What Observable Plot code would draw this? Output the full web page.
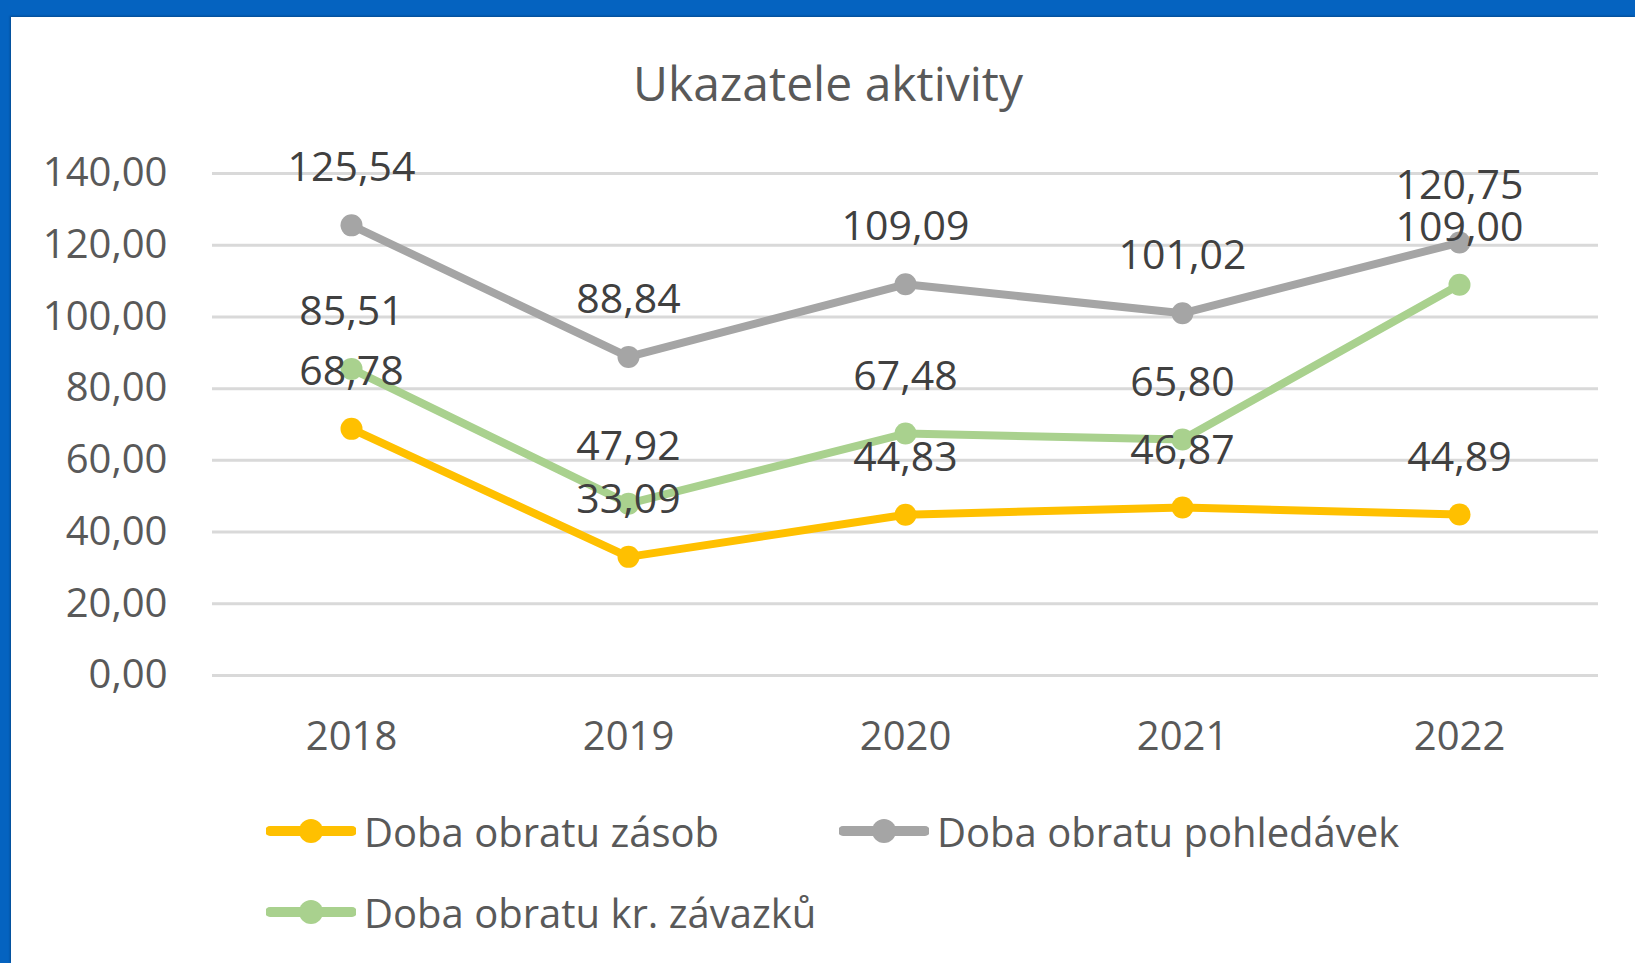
<!DOCTYPE html>
<html>
<head>
<meta charset="utf-8">
<script src="https://cdn.jsdelivr.net/npm/d3@7"></script>
<script src="https://cdn.jsdelivr.net/npm/@observablehq/plot@0.6"></script>
<style>
  html, body { margin: 0; padding: 0; background: #0563C0; }
  #page { position: relative; width: 1635px; height: 963px; background: #0563C0; overflow: hidden; }
  #panel { position: absolute; left: 11px; top: 17px; width: 1624px; height: 946px; background: #fff; box-shadow: -1px -1px 2px rgba(0,0,0,0.25); font-family: "Open Sans", sans-serif; color: #595959; }
  #title { position: absolute; left: 0; width: 1634px; top: 36px; text-align: center; font-size: 48px; color: #595959; line-height: 60px; }
  #chart { position: absolute; left: 0; top: 0; }
  .leg { position: absolute; display: flex; align-items: center; font-size: 40px; color: #595959; white-space: nowrap; }
  .leg svg { margin-right: 8px; }
</style>
</head>
<body>
<div id="page">
  <div id="panel">
    <div id="chart"></div>
    <div id="title">Ukazatele aktivity</div>
    <div id="legend"></div>
  </div>
</div>
<script>
const years = ["2018", "2019", "2020", "2021", "2022"];
const seriesNames = ["Doba obratu zásob", "Doba obratu pohledávek", "Doba obratu kr. závazků"];
const seriesColors = ["#FFC000", "#A5A5A5", "#A9D18E"];
const zasob = [68.78, 33.09, 44.83, 46.87, 44.89];
const pohledavek = [125.54, 88.84, 109.09, 101.02, 120.75];
const zavazku = [85.51, 47.92, 67.48, 65.80, 109.00];
const yTicks = [0, 20, 40, 60, 80, 100, 120, 140];

const fmt = v => v.toFixed(2).replace(".", ",");
const seriesValues = [zasob, pohledavek, zavazku];
const rows = [];
seriesNames.forEach((s, i) => {
  years.forEach((y, j) => rows.push({series: s, year: y, value: seriesValues[i][j]}));
});

const chart = Plot.plot({
  width: 1624,
  height: 780,
  marginLeft: 201,
  marginRight: 37,
  marginTop: 156,
  marginBottom: 122,
  style: {fontFamily: "'Open Sans', sans-serif", fontSize: "40px", color: "#595959", background: "transparent"},
  x: {type: "point", domain: years, padding: 0.5, label: null, tickSize: 0, tickPadding: 46},
  y: {domain: [0, 140], ticks: yTicks, label: null, tickSize: 0, tickPadding: 45, tickFormat: fmt},
  color: {domain: seriesNames, range: seriesColors},
  marks: [
    Plot.ruleY(yTicks, {stroke: "#D9D9D9", strokeWidth: 3}),
    Plot.line(rows, {x: "year", y: "value", z: "series", stroke: "series", strokeWidth: 8}),
    Plot.dot(rows, {x: "year", y: "value", fill: "series", r: 11}),
    Plot.text(rows, {x: "year", y: "value", text: d => fmt(d.value), dy: -57, fill: "#404040", fontSize: 41})
  ]
});
document.getElementById("chart").appendChild(chart);

// Legend
const legPos = [
  {left: 255, top: 814},
  {left: 828, top: 814},
  {left: 255, top: 895}
];
const legend = document.getElementById("legend");
seriesNames.forEach((s, i) => {
  const d = document.createElement("div");
  d.className = "leg";
  d.style.left = legPos[i].left + "px";
  d.style.top = (legPos[i].top - 30) + "px";
  d.style.height = "60px";
  d.innerHTML = `<svg width="90" height="30"><line x1="4" y1="15" x2="86" y2="15" stroke="${seriesColors[i]}" stroke-width="10" stroke-linecap="round"/><circle cx="45" cy="15" r="12" fill="${seriesColors[i]}"/></svg><span>${s}</span>`;
  legend.appendChild(d);
});
</script>
</body>
</html>
